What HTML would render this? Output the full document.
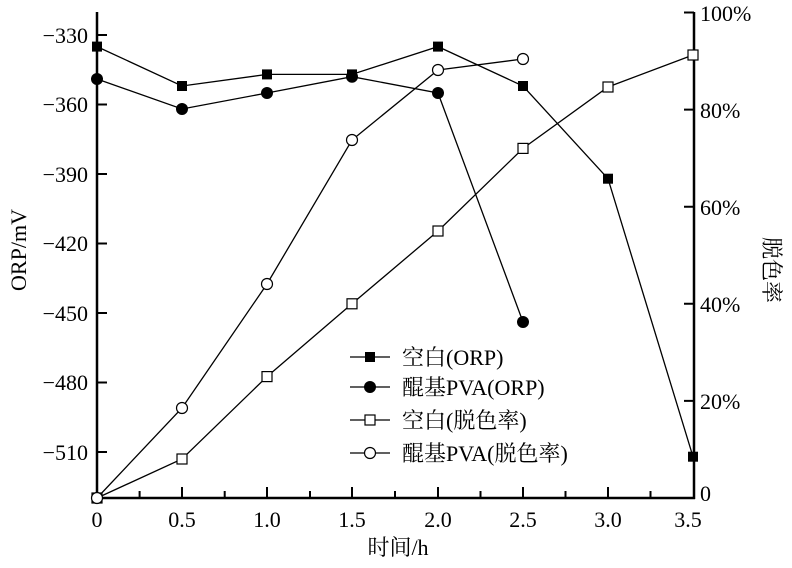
<!DOCTYPE html>
<html><head><meta charset="utf-8"><style>
body{margin:0;background:#fff}
text{font-family:"Liberation Serif","Noto Serif CJK SC","Noto Sans CJK SC",serif;font-size:22px;fill:#000}
</style></head><body>
<svg width="792" height="563" viewBox="0 0 792 563" xmlns="http://www.w3.org/2000/svg">
<g stroke="#000" stroke-width="2.5" fill="none">
<line x1="97" y1="12" x2="97" y2="499"/>
<line x1="694" y1="12" x2="694" y2="499"/>
<line x1="96" y1="498" x2="695" y2="498"/>
</g>
<g stroke="#000" stroke-width="2">
<path d="M97 35h10M97 104.5h10M97 174h10M97 243.5h10M97 313h10M97 382.5h10M97 452h10"/>
<path d="M694 12.5h-10M694 109.6h-10M694 206.7h-10M694 303.8h-10M694 400.9h-10"/>
<path d="M182 498v-11M267 498v-11M352 498v-11M438 498v-11M523 498v-11M608 498v-11"/>
<path d="M139.6 498v-7M224.7 498v-7M310 498v-7M395 498v-7M480.5 498v-7M565.5 498v-7M650.5 498v-7"/>
</g>
<g text-anchor="end">
<text x="88" y="43">−330</text><text x="88" y="112">−360</text><text x="88" y="182">−390</text>
<text x="88" y="251">−420</text><text x="88" y="321">−450</text><text x="88" y="390">−480</text><text x="88" y="460">−510</text>
</g>
<g>
<text x="700" y="21">100%</text><text x="700" y="118">80%</text><text x="700" y="215">60%</text>
<text x="700" y="312">40%</text><text x="700" y="409">20%</text><text x="700" y="501">0</text>
</g>
<g text-anchor="middle">
<text x="97" y="527">0</text><text x="182" y="527">0.5</text><text x="267" y="527">1.0</text><text x="352" y="527">1.5</text>
<text x="438" y="527">2.0</text><text x="523" y="527">2.5</text><text x="608" y="527">3.0</text><text x="688" y="527">3.5</text>
<text x="398" y="555">时间/h</text>
<text transform="translate(26,250) rotate(-90)">ORP/mV</text>
<text transform="translate(764,270) rotate(90)">脱色率</text>
</g>
<g stroke="#000" stroke-width="1.3" fill="none">
<polyline points="97,46.6 182,86 267,74.4 352,74.4 438,46.6 523,86 608,178.7 693,456.7"/>
<polyline points="97,79 182,109 267,93 352,76.7 438,93 523,322"/>
<polyline points="97,498 182,459 267,376.6 352,303.8 438,231 523,148.4 608,87 693,55"/>
<polyline points="97,498 182,408 267,284 352,140 438,70 523,59"/>
</g>
<g fill="#000">
<rect x="92" y="41.6" width="10" height="10"/><rect x="177" y="81" width="10" height="10"/><rect x="262" y="69.4" width="10" height="10"/>
<rect x="347" y="69.4" width="10" height="10"/><rect x="433" y="41.6" width="10" height="10"/><rect x="518" y="81" width="10" height="10"/>
<rect x="603" y="173.7" width="10" height="10"/><rect x="688" y="451.7" width="10" height="10"/>
<circle cx="97" cy="79" r="6"/><circle cx="182" cy="109" r="6"/><circle cx="267" cy="93" r="6"/>
<circle cx="352" cy="76.7" r="6"/><circle cx="438" cy="93" r="6"/><circle cx="523" cy="322" r="6"/>
</g>
<g fill="#fff" stroke="#000" stroke-width="1.2">
<rect x="92" y="493" width="10" height="10"/><rect x="177" y="454" width="10" height="10"/><rect x="262" y="371.6" width="10" height="10"/>
<rect x="347" y="298.8" width="10" height="10"/><rect x="433" y="226" width="10" height="10"/><rect x="518" y="143.4" width="10" height="10"/>
<rect x="603" y="82" width="10" height="10"/><rect x="688" y="50" width="10" height="10"/>
<circle cx="97" cy="498" r="5.5"/><circle cx="182" cy="408" r="5.5"/><circle cx="267" cy="284" r="5.5"/>
<circle cx="352" cy="140" r="5.5"/><circle cx="438" cy="70" r="5.5"/><circle cx="523" cy="59" r="5.5"/>
</g>
<g stroke="#000" stroke-width="1.3">
<path d="M350 357h40M350 387h40M350 420h40M350 453h40"/>
</g>
<rect x="365" y="352" width="10" height="10" fill="#000"/>
<circle cx="370" cy="387" r="6" fill="#000"/>
<rect x="365" y="415" width="10" height="10" fill="#fff" stroke="#000" stroke-width="1.2"/>
<circle cx="370" cy="453" r="5.5" fill="#fff" stroke="#000" stroke-width="1.2"/>
<text x="402" y="365">空白(ORP)</text>
<text x="402" y="395">醌基PVA(ORP)</text>
<text x="402" y="428">空白(脱色率)</text>
<text x="402" y="461">醌基PVA(脱色率)</text>
</svg>
</body></html>
